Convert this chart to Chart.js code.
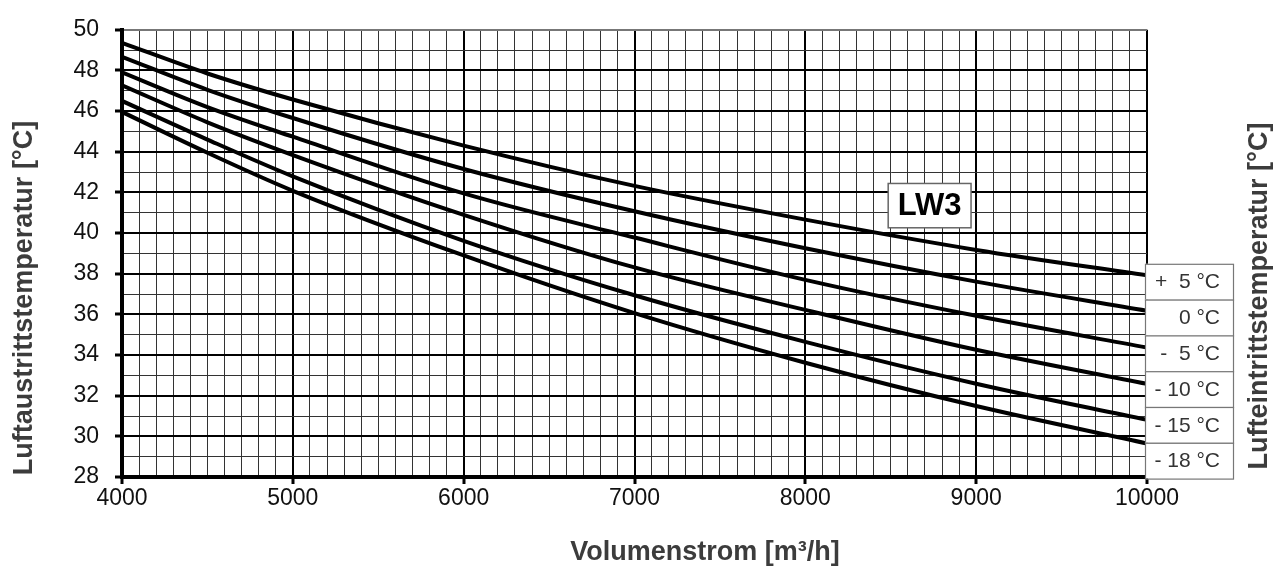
<!DOCTYPE html>
<html lang="de">
<head>
<meta charset="utf-8">
<title>LW3 Luftaustrittstemperatur</title>
<script src="https://cdn.jsdelivr.net/npm/chart.js@4.4.1/dist/chart.umd.min.js"></script>
<style>
  html, body { margin: 0; padding: 0; background: #fff; }
  #wrap { width: 1283px; height: 573px; }
</style>
</head>
<body>
<div id="wrap"><canvas id="lw3-chart" width="1283" height="573"></canvas></div>
<script>
// ===============================
//  Data
// ===============================

const volumeFlow = [4000, 4500, 5000, 6000, 7000, 8000, 9000, 10000];

const seriesPlus5 = [49.36, 47.85, 46.57, 44.30, 42.32, 40.66, 39.17, 37.92];
const seriesZero = [48.67, 47.05, 45.66, 43.15, 41.07, 39.25, 37.61, 36.18];
const seriesMinus5 = [47.91, 46.20, 44.74, 41.95, 39.78, 37.70, 35.93, 34.37];
const seriesMinus10 = [47.27, 45.45, 43.84, 40.90, 38.31, 36.22, 34.26, 32.58];
const seriesMinus15 = [46.50, 44.60, 42.79, 39.62, 36.94, 34.65, 32.59, 30.81];
const seriesMinus18 = [45.96, 43.95, 42.08, 38.90, 36.06, 33.62, 31.49, 29.65];

const inletLabels = ['+  5 °C', '0 °C', '-  5 °C', '- 10 °C', '- 15 °C', '- 18 °C'];
const allSeries = [seriesPlus5, seriesZero, seriesMinus5, seriesMinus10, seriesMinus15, seriesMinus18];

const xTitle = 'Volumenstrom [m³/h]';
const yTitle = 'Luftaustrittstemperatur [°C]';
const yRightTitle = 'Lufteintrittstemperatur [°C]';

const xMin = 4000, xMax = 10000, xStep = 100, xMajor = 1000;
const yMin = 28, yMax = 50, yStep = 1, yMajor = 2;

const FONT = "'Liberation Sans', Arial, sans-serif";

// ===============================
//  Extra drawing: titles, LW3 tag, inlet legend
// ===============================
function drawVertical(ctx, text, x, y) {
  ctx.save();
  ctx.translate(x, y);
  ctx.rotate(-Math.PI / 2);
  ctx.fillText(text, 0, 0);
  ctx.restore();
}

const extrasPlugin = {
  id: 'extras',
  afterDraw(chart) {
    const ctx = chart.ctx;
    const area = chart.chartArea;
    const xs = chart.scales.x;
    const ys = chart.scales.y;

    ctx.save();

    // axis titles
    ctx.font = 'bold 27px ' + FONT;
    ctx.fillStyle = '#3c3c3c';
    ctx.textAlign = 'center';
    ctx.textBaseline = 'middle';
    ctx.fillText(xTitle, 705, 553);
    drawVertical(ctx, yTitle, 25, 298);
    drawVertical(ctx, yRightTitle, 1260, 296);

    // LW3 box
    const bx1 = xs.getPixelForValue(8485);
    const bx2 = xs.getPixelForValue(8970);
    const by1 = ys.getPixelForValue(42.44);
    const by2 = ys.getPixelForValue(40.26);
    ctx.fillStyle = '#fff';
    ctx.fillRect(bx1, by1, bx2 - bx1, by2 - by1);
    ctx.strokeStyle = '#666';
    ctx.lineWidth = 1.5;
    ctx.strokeRect(bx1, by1, bx2 - bx1, by2 - by1);
    ctx.fillStyle = '#000';
    ctx.font = 'bold 31px ' + FONT;
    ctx.fillText('LW3', (bx1 + bx2) / 2, (by1 + by2) / 2 + 1);

    // inlet temperature boxes on the right
    const boxLeft = area.right - 2;
    const boxW = 88;
    const boxH = 35.8;
    const boxTop = area.top + 234;
    ctx.font = '21px ' + FONT;
    ctx.textAlign = 'right';
    inletLabels.forEach((lbl, i) => {
      const top = boxTop + i * boxH;
      ctx.fillStyle = '#fff';
      ctx.fillRect(boxLeft, top, boxW, boxH);
      ctx.strokeStyle = '#777';
      ctx.lineWidth = 1.2;
      ctx.strokeRect(boxLeft + 0.5, top + 0.5, boxW, boxH);
      ctx.fillStyle = '#333';
      ctx.fillText(lbl, boxLeft + 75, top + boxH / 2 + 1);
    });

    ctx.restore();
  },
};

// ===============================
//  Chart
// ===============================
const datasets = allSeries.map((values, i) => ({
  label: inletLabels[i],
  data: volumeFlow.map((v, j) => ({ x: v, y: values[j] })),
  borderColor: '#000',
  borderWidth: 4,
  pointRadius: 0,
  fill: false,
  cubicInterpolationMode: 'monotone',
}));

const isMajor = (value, major) => Math.abs(value / major - Math.round(value / major)) < 1e-6;

new Chart(document.getElementById('lw3-chart'), {
  type: 'line',
  data: { datasets },
  plugins: [extrasPlugin],
  options: {
    responsive: false,
    animation: false,
    devicePixelRatio: 1,
    layout: { padding: { top: 22, left: 0, right: 0, bottom: 0 } },
    plugins: {
      legend: { display: false },
      tooltip: { enabled: false },
    },
    scales: {
      x: {
        type: 'linear',
        position: 'bottom',
        min: xMin,
        max: xMax,
        afterFit: (s) => { s.height = 96; },
        ticks: {
          stepSize: xStep,
          autoSkip: false,
          maxRotation: 0,
          padding: 1,
          color: '#111',
          font: { family: FONT, size: 23 },
          callback: (v) => (isMajor(v, xMajor) ? String(v) : ''),
        },
        grid: {
          color: (c) => (isMajor(c.tick.value, xMajor) ? '#000' : '#333'),
          lineWidth: (c) => (isMajor(c.tick.value, xMajor) ? 2 : 1),
          tickColor: (c) => (isMajor(c.tick.value, xMajor) ? '#000' : 'rgba(0,0,0,0)'),
          tickLength: 7,
          tickWidth: 3,
        },
        border: { display: true, color: '#000', width: 4 },
      },
      y: {
        type: 'linear',
        position: 'left',
        min: yMin,
        max: yMax,
        afterFit: (s) => { s.width = 122; },
        ticks: {
          stepSize: yStep,
          autoSkip: false,
          padding: 16,
          color: '#111',
          font: { family: FONT, size: 23 },
          callback: (v) => (isMajor(v, yMajor) ? String(v) : ''),
        },
        grid: {
          color: (c) => (c.tick.value === yMax ? '#777' : (isMajor(c.tick.value, yMajor) ? '#000' : '#333')),
          lineWidth: (c) => (isMajor(c.tick.value, yMajor) ? 2 : 1),
          tickColor: (c) => (isMajor(c.tick.value, yMajor) ? '#000' : 'rgba(0,0,0,0)'),
          tickLength: 7,
          tickWidth: 3,
        },
        border: { display: true, color: '#000', width: 4 },
      },
      yRight: {
        type: 'linear',
        position: 'right',
        min: yMin,
        max: yMax,
        afterFit: (s) => { s.width = 136; },
        ticks: { display: false },
        grid: { display: false, drawOnChartArea: false },
        border: { display: false },
      },
    },
  },
});
</script>
</body>
</html>
